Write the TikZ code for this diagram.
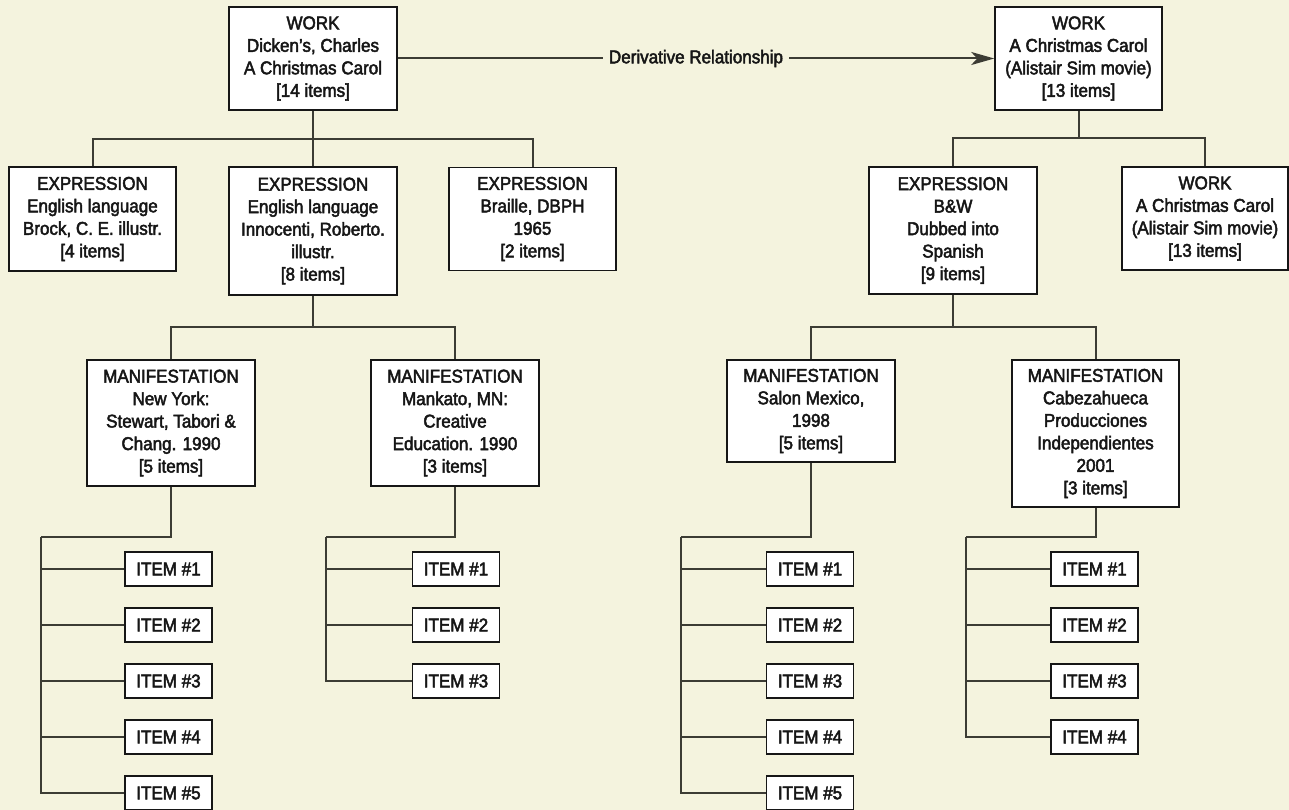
\documentclass[tikz,border=0pt]{standalone}
\usepackage{fontspec}
\setmainfont{Liberation Sans}[FakeStretch=0.92,FakeBold=2.5]
\usetikzlibrary{arrows.meta}
\definecolor{bgc}{RGB}{244,243,222}
\definecolor{linec}{RGB}{60,60,52}
\definecolor{textc}{RGB}{22,22,22}
\begin{document}
\begin{tikzpicture}[x=1pt,y=-1pt,
  box/.style={draw=textc,line width=1.6pt,fill=white,align=center,inner sep=0pt,
    text=textc,font=\fontsize{18.5}{22.5}\selectfont},
  itembox/.style={box,minimum width=87pt,minimum height=34pt},
  conn/.style={draw=linec,line width=2pt}]
\fill[bgc] (0,0) rectangle (1289,810);
\useasboundingbox (0,0) rectangle (1289,810);
% works and expressions
\node[box,minimum width=168pt,minimum height=103pt] (W1) at (313,58.5) {WORK\\Dicken’s, Charles\\A Christmas Carol\\{[14 items]}};
\node[box,minimum width=167pt,minimum height=103pt] (W2) at (1078.5,58.5) {WORK\\A Christmas Carol\\(Alistair Sim movie)\\{[13 items]}};
\node[box,minimum width=167pt,minimum height=104pt] (E1) at (92.5,219) {EXPRESSION\\English language\\Brock, C. E. illustr.\\{[4 items]}};
\node[box,minimum width=168pt,minimum height=128pt] (E2) at (313,231) {EXPRESSION\\English language\\Innocenti, Roberto.\\illustr.\\{[8 items]}};
\node[box,minimum width=167pt,minimum height=103pt] (E3) at (532.5,219) {EXPRESSION\\Braille, DBPH\\1965\\{[2 items]}};
\node[box,minimum width=168pt,minimum height=127pt] (E4) at (953,230.5) {EXPRESSION\\B\&W\\Dubbed into\\Spanish\\{[9 items]}};
\node[box,minimum width=166pt,minimum height=103pt] (W3) at (1205,218.5) {WORK\\A Christmas Carol\\(Alistair Sim movie)\\{[13 items]}};
% manifestations
\node[box,minimum width=168pt,minimum height=126pt] (M1) at (171,423) {MANIFESTATION\\New York:\\Stewart, Tabori \&\\Chang. 1990\\{[5 items]}};
\node[box,minimum width=168pt,minimum height=126pt] (M2) at (455,423) {MANIFESTATION\\Mankato, MN:\\Creative\\Education. 1990\\{[3 items]}};
\node[box,minimum width=168pt,minimum height=102pt] (M3) at (811,411) {MANIFESTATION\\Salon Mexico,\\1998\\{[5 items]}};
\node[box,minimum width=167pt,minimum height=147pt] (M4) at (1095.5,433.5) {MANIFESTATION\\Cabezahueca\\Producciones\\Independientes\\2001\\{[3 items]}};
% items
\foreach \i/\y in {1/569,2/625,3/681,4/737,5/793}{
  \node[itembox] (A\i) at (168.5,\y) {ITEM \#\i};
  \node[itembox] (C\i) at (810,\y) {ITEM \#\i};
}
\foreach \i/\y in {1/569,2/625,3/681}{
  \node[itembox] (B\i) at (456,\y) {ITEM \#\i};
}
\foreach \i/\y in {1/569,2/625,3/681,4/737}{
  \node[itembox] (D\i) at (1094.5,\y) {ITEM \#\i};
}
% junction coordinates
\coordinate (j1) at (313,139);
\coordinate (j2) at (1078.5,138);
\coordinate (j3) at (313,327);
\coordinate (j4) at (953,327);
\coordinate (tA) at (41,537);
\coordinate (tB) at (326,537);
\coordinate (tC) at (681,537);
\coordinate (tD) at (966,537);
% connectors
\draw[conn] (W1.south) -- (j1) -- (E2.north);
\draw[conn] (E1.north) |- (j1) -| (E3.north);
\draw[conn] (W2.south) -- (j2);
\draw[conn] (E4.north) |- (j2) -| (W3.north);
\draw[conn] (E2.south) -- (j3);
\draw[conn] (M1.north) |- (j3) -| (M2.north);
\draw[conn] (E4.south) -- (j4);
\draw[conn] (M3.north) |- (j4) -| (M4.north);
\draw[conn] (M1.south) |- (tA);
\draw[conn] (M2.south) |- (tB);
\draw[conn] (M3.south) |- (tC);
\draw[conn] (M4.south) |- (tD);
\foreach \i in {1,...,5}{ \draw[conn] (tA) |- (A\i.west); \draw[conn] (tC) |- (C\i.west); }
\foreach \i in {1,...,3}{ \draw[conn] (tB) |- (B\i.west); }
\foreach \i in {1,...,4}{ \draw[conn] (tD) |- (D\i.west); }
% derivative relationship
\draw[conn,-{Stealth[length=23pt,width=13pt,inset=6pt]}] (W1.east) -- node[fill=bgc,inner xsep=6pt,inner ysep=2pt,text=textc,font=\fontsize{18.5}{22.5}\selectfont] (lbl) {Derivative Relationship} (W2.west);
\end{tikzpicture}
\end{document}
